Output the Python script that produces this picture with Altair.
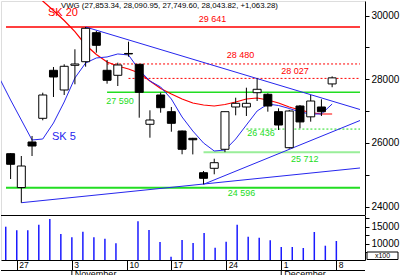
import altair as alt
import pandas as pd

# ---------------- data ----------------
X_MIN, X_MAX = -0.43, 32.6
P_MIN, P_MAX = 23738, 30457
V_MIN, V_MAX = 5206, 18441

idx = list(range(31))
opens = [25663, 24600, 26030, 26774, 28281, 27663, 28438, 28551, 29462, 28281, 28124,
         28810, 28470, 26586, 27506, 26982, 26375, 26146, 25066, 25204, 25801, 27129,
         27129, 27578, 27528, 26982, 25851, 27160, 26820, 27129, 27853.34]
highs = [25680, 25590, 26219, 27578, 28385, 28470, 28941, 29641, 29516, 28605, 28520,
         29180, 28480, 27025, 27578, 27129, 26390, 26160, 25119, 25506, 26982, 27421,
         27735, 28030, 27560, 27088, 27040, 27192, 27506, 27371, 28090.95]
lows = [24868, 24124, 25590, 26711, 27443, 27506, 27842, 28395, 28834, 27861, 27788,
        28709, 26793, 26165, 26950, 26353, 25644, 25640, 24702, 25016, 25712, 26868,
        26846, 27317, 26982, 26407, 25820, 26460, 26668, 26846, 27749.60]
closes = [25330, 25276, 25904, 27506, 28071, 28407, 28479, 29600, 29066, 27967, 28448,
          28795, 27590, 26721, 27107, 26617, 25801, 26100, 24890, 25380, 26982, 27245,
          27245, 27685, 27160, 26563, 27003, 26660, 27317, 26980.54, 28043.82]
volumes = [15000, 13940, 13940, 15590, 17260, 12850, 11880, 13530, 11880, 11470, 10100,
           None, 16590, 14030, 10500, 6180, 11090, 10200, 13150, 8800, 10550, 15600,
           12060, 11720, 11050, 9030, 9030, 8730, 13440, 9410, 10790]

sk20_idx = list(range(2, 31))
sk20 = [30834, 30457, 30159, 29845, 29497, 29076, 28778, 28542, 28417, 28322, 28197,
        27946, 27710, 27537, 27380, 27255, 27192, 27160, 27208, 27286, 27380, 27412,
        27349, 27255, 27129, 27035, 26956, 26909, 26909]
sk5_idx = list(range(-1, 31))
sk5 = [28008, 27349, 26721, 26093, 26124, 26627, 27286, 28040, 28511, 28668, 28700,
       28794, 28762, 28291, 27946, 27757, 27380, 26815, 26375, 25999, 25747, 25778,
       26124, 26564, 27003, 27223, 27176, 27082, 26972, 26909, 26909, 27223]

trend_i0 = [7, 18, 1]
trend_v0 = [29641, 24702, 24124]
trend_i1 = [32.6, 32.6, 32.6]
trend_v1 = [27050, 26705, 25214]

levels = [29641, 28480, 28027, 27590, 26436, 25712, 24596]
level_start = [X_MIN, 9, 11, 9, 22, 18, X_MIN]

tick_idx = [1, 6, 11, 15, 20, 25, 30]
tick_labels = ["27", "3", "10", "17", "24", "1", "8"]
month_idx = [6, 25]
month_labels = ["November", "December"]
title_text = "VWG (27,853.34, 28,090.95, 27,749.60, 28,043.82, +1,063.28)"

# ---------------- styles ----------------
RED = "#ff0000"
GREEN = "#22dd22"
LGREEN = "#99ee99"
BLUE = "#2626ee"
FONT = "Liberation Sans"

level_style = {
    29641: dict(color=RED, dash=[1, 0], width=1.6, li=17.55, dy=-7.5, lc=RED),
    28480: dict(color=RED, dash=[2, 2], width=1, li=20.17, dy=-9, lc=RED),
    28027: dict(color=RED, dash=[2, 2], width=1, li=25.25, dy=-7.5, lc=RED),
    27590: dict(color=GREEN, dash=[1, 0], width=1.5, li=8.92, dy=8.5, lc=GREEN),
    26436: dict(color=GREEN, dash=[2, 2], width=1, li=22.08, dy=3.5, lc=GREEN),
    25712: dict(color=LGREEN, dash=[1, 0], width=2, li=26.16, dy=6.5, lc=GREEN),
    24596: dict(color=GREEN, dash=[1, 0], width=2, li=20.26, dy=5.5, lc=GREEN),
}

xscale = alt.Scale(domain=[X_MIN, X_MAX], nice=False, zero=False)
pscale = alt.Scale(domain=[P_MIN, P_MAX], nice=False, zero=False)
vscale = alt.Scale(domain=[V_MIN, V_MAX], nice=False, zero=False)

p_axis = alt.Axis(orient="right", values=list(range(24000, 30001, 1000)), format="d",
                  labelExpr="datum.value % 2000 == 0 ? datum.label : ''",
                  tickSize=4, labelPadding=2, grid=False, title=None)
v_axis = alt.Axis(orient="right", values=[7500, 10000, 12500, 15000, 17500], format="d",
                  labelExpr="datum.value % 5000 == 0 ? datum.label : ''",
                  tickSize=4, labelPadding=2, grid=False, title=None)


def X(f):
    return alt.X(f, type="quantitative", scale=xscale, axis=None, title=None)


def PY(f):
    return alt.Y(f, type="quantitative", scale=pscale, axis=p_axis, title=None)


candles = pd.DataFrame({"i": idx, "o": opens, "h": highs, "l": lows, "c": closes})
ma20 = pd.DataFrame({"i": sk20_idx, "v": sk20})
ma5 = pd.DataFrame({"i": sk5_idx, "v": sk5})
trends = pd.DataFrame({"i": trend_i0, "v": trend_v0, "i2": trend_i1, "v2": trend_v1})

layers = []
for val, st in zip(levels, level_start):
    s = level_style[val]
    d = pd.DataFrame({"i": [st], "i2": [X_MAX], "v": [val]})
    layers.append(
        alt.Chart(d).mark_rule(color=s["color"], strokeWidth=s["width"], strokeDash=s["dash"])
        .encode(x=X("i"), x2="i2", y=PY("v"))
    )

layers.append(
    alt.Chart(trends).mark_rule(color=BLUE, strokeWidth=1)
    .encode(x=X("i"), x2="i2", y=PY("v"), y2="v2")
)
layers.append(
    alt.Chart(ma20).mark_line(color=RED, strokeWidth=1.2, clip=True)
    .encode(x=X("i"), y=PY("v"))
)
layers.append(
    alt.Chart(ma5).mark_line(color=BLUE, strokeWidth=1, clip=True)
    .encode(x=X("i"), y=PY("v"))
)
layers.append(
    alt.Chart(candles).mark_rule(color="black", strokeWidth=1)
    .encode(x=X("i"), y=PY("l"), y2="h")
)
layers.append(
    alt.Chart(candles).mark_bar(size=8, stroke="black", strokeWidth=1)
    .encode(x=X("i"), y=PY("o"), y2="c",
            fill=alt.condition("datum.c >= datum.o", alt.value("white"), alt.value("black")))
)

for val in levels:
    s = level_style[val]
    lab = f"{int(val) // 1000} {int(val) % 1000:03d}"
    d = pd.DataFrame({"i": [s["li"]], "v": [val], "t": [lab]})
    layers.append(
        alt.Chart(d).mark_text(align="left", baseline="middle", dy=s["dy"], fontSize=9,
                               color=s["lc"], font=FONT)
        .encode(x=X("i"), y=PY("v"), text="t:N")
    )

ann = pd.DataFrame({"t": [title_text]})
layers.append(
    alt.Chart(ann).mark_text(align="left", baseline="middle", fontSize=7.8, color="black", font=FONT)
    .encode(x=alt.value(60), y=alt.value(4.5), text="t:N")
)
layers.append(
    alt.Chart(pd.DataFrame({"t": ["SK 20"]})).mark_text(align="left", baseline="middle",
                                                         fontSize=11, color=RED, font=FONT)
    .encode(x=alt.value(47), y=alt.value(11.5), text="t:N")
)
layers.append(
    alt.Chart(pd.DataFrame({"t": ["SK 5"]})).mark_text(align="left", baseline="middle",
                                                        fontSize=11, color=BLUE, font=FONT)
    .encode(x=alt.value(51), y=alt.value(136), text="t:N")
)

main = alt.layer(*layers).properties(width=364, height=214)

# ---------------- volume panel ----------------
vol = pd.DataFrame({"i": idx, "vol": volumes})
months = pd.DataFrame({"i": month_idx, "t": month_labels})

x_axis = alt.Axis(values=tick_idx, grid=False, tickSize=10, labelAlign="left", labelOffset=2,
                  labelBaseline="top", labelPadding=-9.5, labelFontSize=8.5, labelOverlap=False,
                  labelFlush=False, labelBound=False, title=None,
                  labelExpr="%s[indexof(%s, datum.value)]" % (
                      "[" + ",".join("'%s'" % t for t in tick_labels) + "]",
                      "[" + ",".join(str(t) for t in tick_idx) + "]"))

vbars = alt.Chart(vol).mark_rule(color="#1a1aff", strokeWidth=1.5).encode(
    x=alt.X("i:Q", scale=xscale, axis=x_axis),
    y=alt.Y("vol:Q", scale=vscale, axis=v_axis),
    y2=alt.value(45),
)
top_line = alt.Chart(vol).mark_rule(color="black", strokeWidth=1).encode(
    x=alt.value(0), x2=alt.value(364), y=alt.value(0.5))
row_line = alt.Chart(vol).mark_rule(color="black", strokeWidth=1).encode(
    x=alt.value(0), x2=alt.value(364), y=alt.value(55.5))
month_ticks = alt.Chart(months).mark_rule(color="black", strokeWidth=1).encode(
    x=alt.X("i:Q", scale=xscale), y=alt.value(55), y2=alt.value(61))
month_text = alt.Chart(months).mark_text(align="left", baseline="alphabetic", dx=3,
                                         fontSize=9, color="black", font=FONT).encode(
    x=alt.X("i:Q", scale=xscale), y=alt.value(61.5), text="t:N")
unit_box = alt.Chart(pd.DataFrame({"t": ["x100"]})).mark_rect(
    fill="white", stroke="black", strokeWidth=1).encode(
    x=alt.value(366), x2=alt.value(397), y=alt.value(37), y2=alt.value(44.5))
unit_text = alt.Chart(pd.DataFrame({"t": ["x100"]})).mark_text(
    align="center", baseline="middle", fontSize=7, color="black", font=FONT).encode(
    x=alt.value(381.5), y=alt.value(41), text="t:N")

volume = alt.layer(vbars, top_line, row_line, month_ticks, month_text, unit_box, unit_text
                   ).properties(width=364, height=45)

chart = (
    alt.vconcat(main, volume, spacing=0, padding=0, bounds="flush")
    .resolve_scale(x="independent", y="independent")
    .configure_view(stroke=None)
    .configure(background="white", font=FONT)
    .configure_axis(labelFont=FONT, labelFontSize=10, labelColor="black", tickColor="black",
                    domainColor="black", domainWidth=1, tickWidth=1)
)

chart.save("out.html", embed_options={"renderer": "svg", "actions": False})
